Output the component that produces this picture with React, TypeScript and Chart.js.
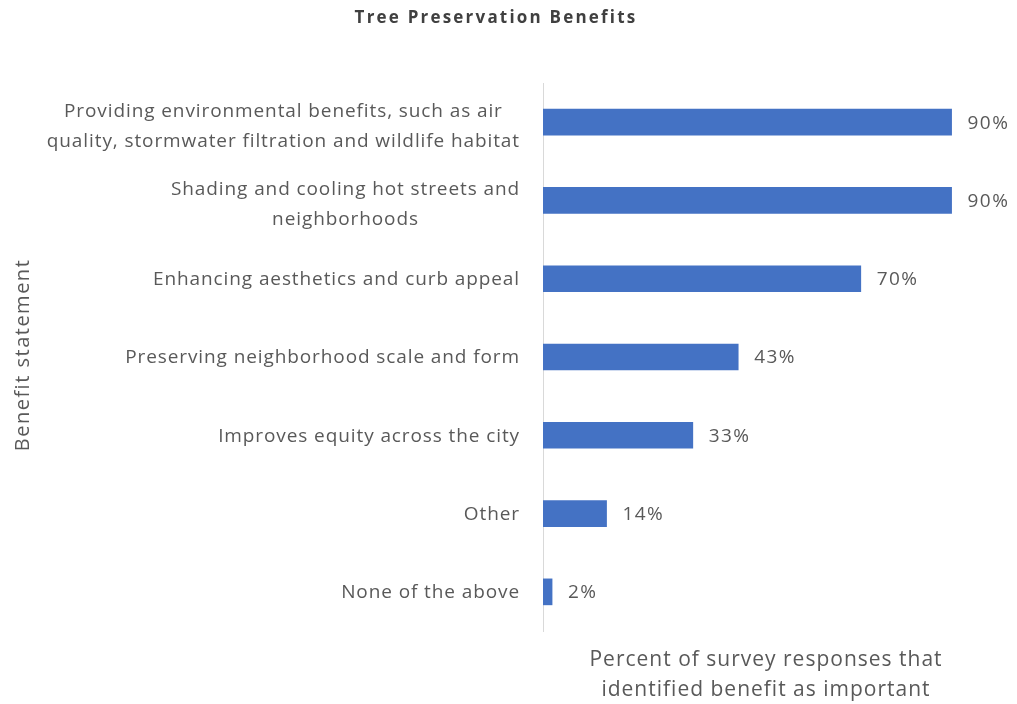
import React, { useEffect, useRef } from "react";
import { Chart, registerables } from "chart.js";

Chart.register(...registerables);

const categories: string[][] = [
  ["Providing environmental benefits, such as air", "quality, stormwater filtration and wildlife habitat"],
  ["Shading and cooling hot streets and", "neighborhoods"],
  ["Enhancing aesthetics and curb appeal"],
  ["Preserving neighborhood scale and form"],
  ["Improves equity across the city"],
  ["Other"],
  ["None of the above"],
];
const values: number[] = [90, 90, 70, 43, 33, 14, 2];
const valueLabels: string[] = ["90%", "90%", "70%", "43%", "33%", "14%", "2%"];

const chartTitle = "Tree Preservation Benefits";
const yTitle = "Benefit statement";
const xTitle = ["Percent of survey responses that", "identified benefit as important"];

const FONT = "'Open Sans', 'Noto Sans', sans-serif";
const GRAY = "#595959";

const labelPlugin = {
  id: "customLabels",
  afterDraw(chart: any) {
    const ctx = chart.ctx;
    const y = chart.scales.y;
    const area = chart.chartArea;
    const meta = chart.getDatasetMeta(0);
    ctx.save();
    ctx.textBaseline = "middle";

    // chart title
    ctx.font = `bold 17px ${FONT}`;
    ctx.letterSpacing = "2.2px";
    ctx.fillStyle = "#404040";
    ctx.textAlign = "center";
    ctx.fillText(chartTitle, 496, 18);

    // category labels
    ctx.font = `19px ${FONT}`;
    ctx.letterSpacing = "0.9px";
    ctx.fillStyle = GRAY;
    const lineH = 30;
    const rightEdge = area.left - 23;
    categories.forEach((lines, i) => {
      const cy = y.getPixelForValue(i);
      const w = Math.max(...lines.map((l) => ctx.measureText(l).width));
      const cx = rightEdge - w / 2;
      ctx.textAlign = "center";
      const start = cy - ((lines.length - 1) * lineH) / 2 + (lines.length > 1 ? 4 : 1);
      lines.forEach((l, k) => ctx.fillText(l, cx, start + k * lineH));
    });

    // value labels
    ctx.letterSpacing = "1.4px";
    ctx.textAlign = "left";
    meta.data.forEach((bar: any, i: number) => {
      ctx.fillText(valueLabels[i], bar.x + 16, bar.y + 1);
    });

    // x title
    ctx.font = `21px ${FONT}`;
    ctx.letterSpacing = "1px";
    ctx.textAlign = "center";
    const xc = (area.left + area.right) / 2 - 4;
    xTitle.forEach((l, k) => ctx.fillText(l, xc, 660 + k * 30));

    // y title
    ctx.font = `20px ${FONT}`;
    ctx.letterSpacing = "1.5px";
    ctx.translate(23, (area.top + area.bottom) / 2 - 2);
    ctx.rotate(-Math.PI / 2);
    ctx.fillText(yTitle, 0, 0);
    ctx.restore();
  },
};

export default function App() {
  const ref = useRef<HTMLCanvasElement>(null);
  useEffect(() => {
    document.body.style.margin = "0";
    const chart = new Chart(ref.current!, {
      type: "bar",
      data: {
        labels: categories.map((c) => c.join(" ")),
        datasets: [
          {
            data: values,
            backgroundColor: "#4472C4",
            borderWidth: 0,
            barThickness: 26,
          },
        ],
      },
      options: {
        indexAxis: "y",
        animation: false,
        responsive: false,
        maintainAspectRatio: false,
        layout: { padding: { left: 0, right: 20, top: 83, bottom: 73 } },
        plugins: {
          legend: { display: false },
          tooltip: { enabled: false },
          title: { display: false },
        },
        scales: {
          x: {
            min: 0,
            max: 100,
            ticks: { display: false },
            grid: { display: false, drawTicks: false },
            border: { display: false },
          },
          y: {
            ticks: { display: false },
            grid: { display: false, drawTicks: false },
            border: { display: true, color: "#D9D9D9", width: 1 },
            afterFit: (scale: any) => {
              scale.width = 543;
            },
          },
        },
      },
      plugins: [labelPlugin],
    });
    return () => chart.destroy();
  }, []);
  return (
    <div style={{ width: 1017, height: 704 }}>
      <canvas ref={ref} width={1017} height={704} style={{ display: "block" }} />
    </div>
  );
}
